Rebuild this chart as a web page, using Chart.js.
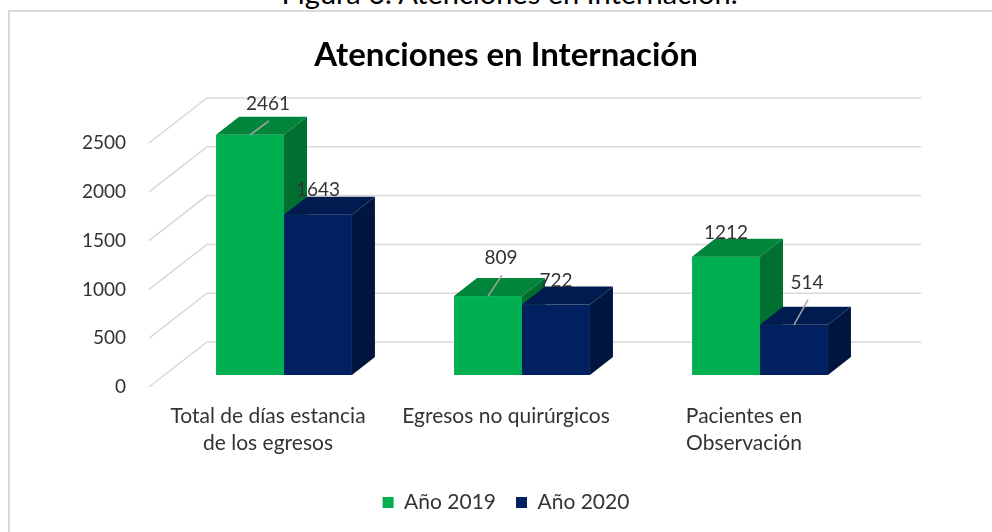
<!DOCTYPE html>
<html>
<head>
<meta charset="utf-8">
<script src="https://cdn.jsdelivr.net/npm/chart.js@4.4.0/dist/chart.umd.min.js"></script>
<style>
    html, body { margin: 0; padding: 0; background: #fff; overflow: hidden; }
    #caption { position: absolute; left: 0; top: -24px; width: 1019px; text-align: center; font: 29px/1.2 Lato, sans-serif; color: #000; }
    #frame { position: absolute; left: 8px; top: 10px; width: 1000px; height: 540px; border: 2px solid #d9d9d9; }
    #chartContainer { position: absolute; left: 0; top: 0; width: 992px; height: 532px; }
</style>
</head>
<body>
<div id="caption">Figura 6. Atenciones en Internación.</div>
<div id="frame"></div>
<div id="chartContainer"><canvas id="myChart"></canvas></div>
<script>
// dati
const categories = [['Total de días estancia', 'de los egresos'], ['Egresos no quirúrgicos'], ['Pacientes en', 'Observación']];
const seriesNames = ['Año 2019', 'Año 2020'];
const values2019 = [2461, 809, 1212];
const values2020 = [1643, 722, 514];
const yTicks = [0, 500, 1000, 1500, 2000, 2500];

// effetto 3D: spostamenti in pixel
const FRONT = { dx: 16, dy: -12 };   // piano frontale delle barre rispetto all'asse
const DEPTH = { dx: 23, dy: -18 };   // profondità delle barre
const WALL = { dx: 58, dy: -45 };    // parete di fondo

// spostamento delle etichette (Excel ne sposta alcune con linea guida)
const labelShift = [
    [[18, -31], [13, -38], [0, -24]],
    [[0, -25], [0, -24], [13, -42]],
];

const TEXT = '#333333';

const bars3d = {
    id: 'bars3d',
    beforeDatasetsDraw(chart) {
        const { ctx, chartArea, scales: { y } } = chart;
        ctx.save();
        // pareti e griglia
        ctx.strokeStyle = '#d9d9d9';
        ctx.lineWidth = 1.5;
        yTicks.forEach(v => {
            const py = y.getPixelForValue(v);
            ctx.beginPath();
            ctx.moveTo(chartArea.left, py);
            ctx.lineTo(chartArea.left + WALL.dx, py + WALL.dy);
            ctx.lineTo(chartArea.right + WALL.dx, py + WALL.dy);
            ctx.stroke();
        });
        // etichette asse y
        ctx.fillStyle = TEXT;
        ctx.font = '19px Lato';
        ctx.textAlign = 'right';
        ctx.textBaseline = 'middle';
        yTicks.forEach(v => ctx.fillText(String(v), chartArea.left - 23, y.getPixelForValue(v)));
        ctx.restore();
    },
    // le barre le disegno io, nell'ordine giusto per le facce laterali
    beforeDatasetDraw() {
        return false;
    },
    afterDatasetsDraw(chart) {
        const ctx = chart.ctx;
        const metas = chart.data.datasets.map((d, i) => chart.getDatasetMeta(i));
        ctx.save();
        ctx.translate(FRONT.dx, FRONT.dy);
        for (let j = 0; j < categories.length; j++) {
            metas.forEach((meta, i) => {
                const ds = chart.data.datasets[i];
                const { x, y, base, width } = meta.data[j].getProps(['x', 'y', 'base', 'width'], true);
                const l = x - width / 2;
                const r = x + width / 2;
                ctx.fillStyle = ds.backgroundColor;
                ctx.fillRect(l, y, width, base - y);
                ctx.fillStyle = ds.topColor;
                ctx.beginPath();
                ctx.moveTo(l, y);
                ctx.lineTo(l + DEPTH.dx, y + DEPTH.dy);
                ctx.lineTo(r + DEPTH.dx, y + DEPTH.dy);
                ctx.lineTo(r, y);
                ctx.closePath();
                ctx.fill();
                ctx.fillStyle = ds.sideColor;
                ctx.beginPath();
                ctx.moveTo(r, y);
                ctx.lineTo(r + DEPTH.dx, y + DEPTH.dy);
                ctx.lineTo(r + DEPTH.dx, base + DEPTH.dy);
                ctx.lineTo(r, base);
                ctx.closePath();
                ctx.fill();
            });
        }
        // etichette dei valori
        ctx.font = '19px Lato';
        ctx.textAlign = 'center';
        ctx.textBaseline = 'middle';
        metas.forEach((meta, i) => {
            meta.data.forEach((bar, j) => {
                const { x, y } = bar.getProps(['x', 'y'], true);
                const [sx, sy] = labelShift[i][j];
                const lx = x + sx;
                const ly = y + sy;
                if (sx !== 0) {
                    ctx.strokeStyle = '#a6a6a6';
                    ctx.lineWidth = 1.5;
                    ctx.beginPath();
                    ctx.moveTo(x, y);
                    ctx.lineTo(lx + 1, ly + 17);
                    ctx.stroke();
                }
                ctx.fillStyle = TEXT;
                ctx.fillText(String(chart.data.datasets[i].data[j]), lx, ly);
            });
        });
        ctx.restore();
    }
};

Chart.defaults.font.family = 'Lato';
Chart.defaults.color = TEXT;

const ctx = document.getElementById('myChart').getContext('2d');
const myChart = new Chart(ctx, {
    type: 'bar',
    data: {
        labels: categories,
        datasets: [
            {
                label: seriesNames[0],
                data: values2019,
                backgroundColor: '#00b050',
                topColor: '#00853b',
                sideColor: '#007030',
                categoryPercentage: 0.571,
                barPercentage: 1,
            },
            {
                label: seriesNames[1],
                data: values2020,
                backgroundColor: '#002060',
                topColor: '#001b50',
                sideColor: '#001540',
                categoryPercentage: 0.571,
                barPercentage: 1,
            }
        ]
    },
    options: {
        responsive: true,
        maintainAspectRatio: false,
        animation: false,
        layout: {
            padding: { top: 0, left: 149, right: 129, bottom: 9 }
        },
        scales: {
            x: {
                grid: { display: false, drawTicks: false },
                border: { display: false },
                ticks: {
                    padding: 16,
                    maxRotation: 0,
                    autoSkip: false,
                    font: { size: 21, lineHeight: 1.286 },
                    color: TEXT,
                },
                afterFit(scale) {
                    scale.height = 85;
                }
            },
            y: {
                display: false,
                min: 0,
                max: 2500,
                ticks: { stepSize: 500 }
            }
        },
        plugins: {
            title: {
                display: true,
                text: 'Atenciones en Internación',
                color: '#000',
                font: { size: 33, weight: 'bold', lineHeight: 1.2 },
                padding: { top: 35.2, bottom: 68.2 }
            },
            legend: {
                position: 'bottom',
                labels: {
                    boxWidth: 11,
                    boxHeight: 11,
                    padding: 20,
                    color: TEXT,
                    font: { size: 21 }
                }
            },
            tooltip: { enabled: false }
        }
    },
    plugins: [bars3d]
});
</script>
</body>
</html>
